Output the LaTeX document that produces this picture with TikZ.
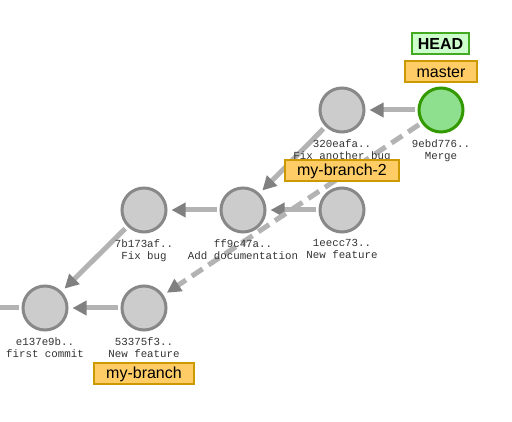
\documentclass[tikz,border=0pt]{standalone}
\usepackage{fontspec}
\setmainfont{Liberation Sans}
\newfontfamily\monofont{Liberation Mono}
\usepackage{tikz}
\usetikzlibrary{arrows.meta}
\usetikzlibrary{positioning}
\definecolor{edgegray}{HTML}{B3B3B3}
\definecolor{tipgray}{HTML}{808080}
\definecolor{commitfill}{HTML}{CCCCCC}
\definecolor{commitdraw}{HTML}{888888}
\definecolor{headfill}{HTML}{8EE08E}
\definecolor{headdraw}{HTML}{339900}
\definecolor{branchfill}{HTML}{FFCC66}
\definecolor{branchdraw}{HTML}{CC9900}
\definecolor{reffill}{HTML}{CCFFCC}
\definecolor{refdraw}{HTML}{44AA22}
\tikzstyle{commit}=[circle,fill=commitfill,draw=commitdraw,line width=3pt,minimum size=44pt,inner sep=0pt]
\tikzstyle{headcommit}=[commit,fill=headfill,draw=headdraw]
\tikzstyle{parent}=[draw=edgegray,line width=5pt,shorten <=3pt,shorten >=4pt,-{Triangle[length=14pt,width=14pt,color=tipgray]}]
\tikzstyle{merge}=[parent,dash pattern=on 13pt off 7pt]
\tikzstyle{msg}=[font=\monofont\fontsize{10.8}{12}\selectfont,text=black!80,align=center,inner sep=0pt,anchor=north]
\tikzstyle{branch}=[draw=branchdraw,fill=branchfill,line width=2pt,font=\fontsize{16}{18}\selectfont,inner xsep=12pt,inner ysep=0pt,minimum height=21pt]
\tikzstyle{headref}=[branch,draw=refdraw,fill=reffill,font=\bfseries\fontsize{16}{18}\selectfont,inner xsep=6pt]

\begin{document}
\begin{tikzpicture}[x=1pt,y=-1pt]
\useasboundingbox (0,0) rectangle (512,422);

% commits
\foreach \pos/\name in {{(45,308)/e137},{(144,308)/c533},{(144,210)/c7b1},{(243,210)/ff9c},{(342,210)/c1ee},{(342,110)/c320}}
    \node[commit] (\name) at \pos {};
\node[headcommit] (c9eb) at (441,110) {};

% parents
\coordinate (older) at (0,308);
\path[draw=edgegray,line width=5pt,shorten <=3pt] (e137) -- (older);
\foreach \source/\dest in {c533/e137, c7b1/e137, ff9c/c7b1, c1ee/ff9c, c320/ff9c, c9eb/c320}
    \path[parent] (\source) -- (\dest);
\path[merge] (c9eb) -- (c533);

% hash and message
\foreach \name/\hash/\text in {e137/e137e9b../first commit, c533/53375f3../New feature, c7b1/7b173af../Fix bug, ff9c/ff9c47a../Add documentation, c1ee/1eecc73../New feature, c320/320eafa../Fix another bug, c9eb/9ebd776../Merge}
    \node[msg] (\name txt) at ([yshift=-5.5pt]\name.south) {\hash\\\text};

% refs
\node[branch] (master) at (441,72) {master};
\node[headref] (head) at (440.5,44) {HEAD};
\node[branch] (mybranch2) at (342,171) {my-branch-2};
\node[branch] (mybranch) at (144,374) {my-branch};

\end{tikzpicture}
\end{document}
